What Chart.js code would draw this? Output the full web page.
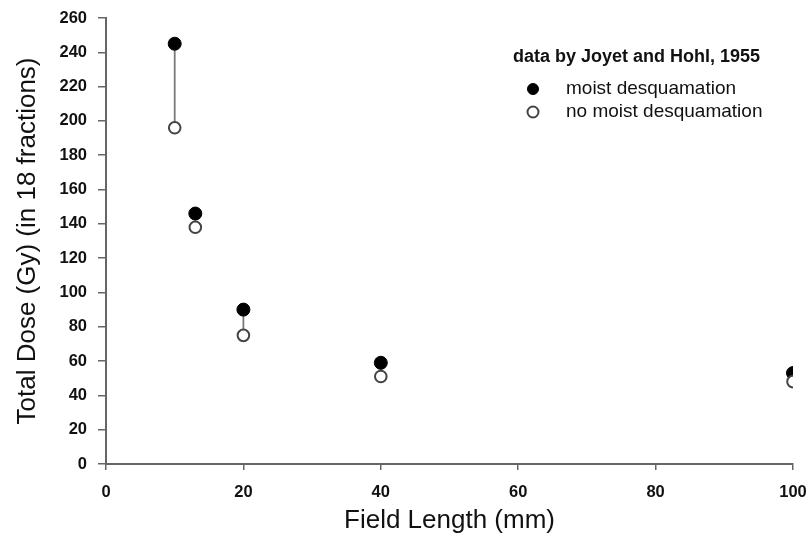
<!DOCTYPE html>
<html>
<head>
<meta charset="utf-8">
<script src="https://cdn.jsdelivr.net/npm/chart.js@4.4.1/dist/chart.umd.min.js"></script>
<style>
  html, body { margin: 0; padding: 0; background: #fff; }
</style>
</head>
<body>
<canvas id="chart" width="811" height="534"></canvas>
<script>
// --- Datos (Joyet and Hohl, 1955) ---
const fieldLength = [10, 13, 20, 40, 100];          // mm
const moistDose = [245, 146, 90, 59, 53];           // Gy, moist desquamation
const noMoistDose = [196, 138, 75, 51, 48];         // Gy, no moist desquamation
const legendTitle = 'data by Joyet and Hohl, 1955';
const seriesLabels = ['moist desquamation', 'no moist desquamation'];

const FONT = '"Liberation Sans", Arial, sans-serif';
const INK = '#111';
const AXIS = '#666';

// points of each series
const moistPts = fieldLength.map((x, i) => ({ x: x, y: moistDose[i] }));
const noMoistPts = fieldLength.map((x, i) => ({ x: x, y: noMoistDose[i] }));
// vertical connectors between the pairs (NaN breaks the line)
const connectorPts = fieldLength.flatMap((x, i) => [
  { x: x, y: moistDose[i] }, { x: x, y: noMoistDose[i] }, { x: x, y: NaN }
]);

// --- Leyenda dibujada a mano ---
const legendPlugin = {
  id: 'customLegend',
  afterDraw(chart) {
    const ctx = chart.ctx;
    ctx.save();
    ctx.fillStyle = INK;
    ctx.textBaseline = 'middle';
    ctx.textAlign = 'left';
    ctx.font = 'bold 18px ' + FONT;
    ctx.fillText(legendTitle, 513, 57);

    ctx.font = '19px ' + FONT;
    const rows = [89, 112];
    chart.data.datasets.filter(d => d.label).forEach((ds, i) => {
      const y = rows[i];
      ctx.beginPath();
      ctx.arc(533, y, 5.5, 0, Math.PI * 2);
      ctx.fillStyle = ds.backgroundColor;
      ctx.fill();
      ctx.lineWidth = ds.borderWidth;
      ctx.strokeStyle = ds.borderColor;
      ctx.stroke();
      ctx.fillStyle = INK;
      ctx.fillText(ds.label, 566, y);
    });
    ctx.restore();
  }
};

const ctx = document.getElementById('chart').getContext('2d');
new Chart(ctx, {
  type: 'scatter',
  data: {
    datasets: [
      {
        data: connectorPts,
        showLine: true,
        spanGaps: false,
        borderColor: '#7a7a7a',
        borderWidth: 1.8,
        pointRadius: 0,
        order: 3
      },
      {
        label: seriesLabels[0],
        data: moistPts,
        backgroundColor: '#000',
        borderColor: '#000',
        borderWidth: 1,
        pointRadius: 6.5,
        order: 2
      },
      {
        label: seriesLabels[1],
        data: noMoistPts,
        backgroundColor: '#fff',
        borderColor: '#444',
        borderWidth: 2,
        pointRadius: 5.8,
        order: 1
      }
    ]
  },
  options: {
    responsive: false,
    animation: false,
    layout: { padding: { top: 18, right: 18, bottom: 0, left: 0 } },
    plugins: { legend: { display: false }, tooltip: { enabled: false } },
    scales: {
      x: {
        type: 'linear', min: 0, max: 100,
        ticks: { stepSize: 20, color: INK, padding: 13, font: { family: FONT, size: 16.5, weight: 'bold' } },
        grid: { drawOnChartArea: false, drawTicks: true, tickLength: 6, color: AXIS, lineWidth: 1.5 },
        border: { color: AXIS, width: 2 },
        title: { display: true, text: 'Field Length (mm)', color: INK,
                 font: { family: FONT, size: 26, lineHeight: 1 }, padding: { top: 0, bottom: 0 } },
        afterFit: s => { s.height = 70; s.paddingLeft = 0; s.paddingRight = 0; }
      },
      y: {
        type: 'linear', min: 0, max: 260,
        ticks: { stepSize: 20, color: INK, padding: 11, font: { family: FONT, size: 16.5, weight: 'bold' } },
        grid: { drawOnChartArea: false, drawTicks: true, tickLength: 8, color: AXIS, lineWidth: 1.5 },
        border: { color: AXIS, width: 2 },
        title: { display: true, text: 'Total Dose (Gy) (in 18 fractions)', color: INK,
                 font: { family: FONT, size: 26 }, padding: { top: 12, bottom: 0 } },
        afterFit: s => { s.width = 106; s.paddingTop = 0; s.paddingBottom = 0; }
      }
    }
  },
  plugins: [legendPlugin]
});
</script>
</body>
</html>
